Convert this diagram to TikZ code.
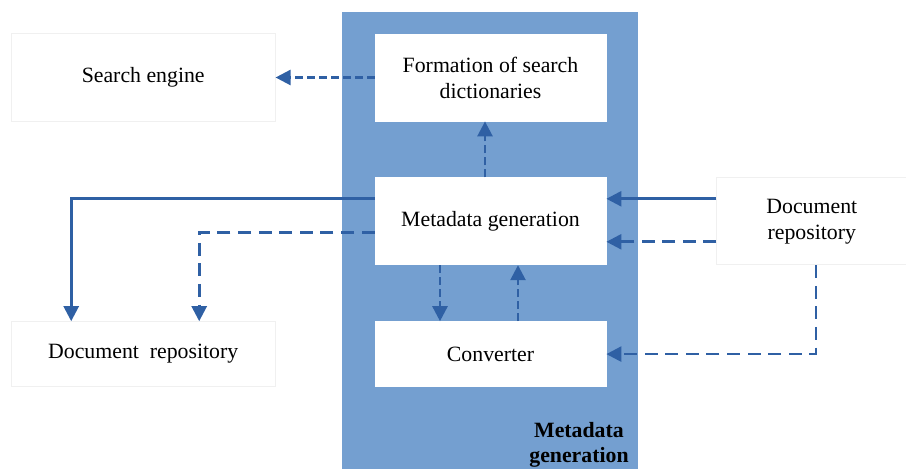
\documentclass[tikz,border=0pt]{standalone}
\usepackage{fontspec}
\setmainfont{Liberation Serif}
\usetikzlibrary{positioning,arrows.meta}
\definecolor{bandblue}{RGB}{116,159,208}
\definecolor{flowblue}{RGB}{47,96,164}
\begin{document}
\begin{tikzpicture}[x=0.5pt, y=-0.5pt, >={Triangle[length=7.5pt,width=7.5pt]}, font=\fontsize{10.9}{13}\selectfont]
            \tikzstyle{block} = [rectangle, fill=white, draw=gray!12, line width=0.4pt, align=center, text centered, inner sep=2pt]
            \tikzstyle{flow} = [->, draw=flowblue, line width=1.3pt]
            \tikzstyle{shortdash} = [flow, dash pattern=on 4pt off 2pt]
            \tikzstyle{longdash} = [flow, dash pattern=on 6.5pt off 3.8pt]

            \useasboundingbox (0,0) rectangle (906,469);

            % Band
            \fill[bandblue] (342,12) rectangle (638,480);
            \node[font=\fontsize{10.9}{12.5}\selectfont\bfseries, align=center] (bandlabel) at (579,445) {Metadata\\generation};

            % Nodes
            \node[block, draw=white, minimum width=115.5pt, minimum height=43.5pt] (form) at (490.5,77.5) {Formation of search\\dictionaries};
            \node[block, draw=white, minimum width=115.5pt, minimum height=43.5pt] (meta) [below=28pt of form] {Metadata generation};
            \node[block, draw=white, minimum width=115.5pt, minimum height=32.5pt] (conv) [below=28pt of meta] {Converter};
            \node[block, minimum width=132pt, minimum height=44pt] (search) [left=49.5pt of form] {Search engine};
            \node[block, minimum width=132pt, minimum height=32.5pt] (repoL) [left=49.5pt of conv] {Document\ \ repository};
            \node[block, minimum width=95pt, minimum height=43.5pt] (repoR) [right=55pt of meta] {Document\\repository};

            % Edges
            \draw[shortdash] (form.west) -- (search.east);
            \draw[shortdash] ([xshift=-2.75pt]meta.north) -- ([xshift=-2.75pt]form.south);
            \draw[flow] ([yshift=11.25pt]meta.west) -| ([xshift=-36pt]repoL.north);
            \draw[longdash] ([yshift=-5.75pt]meta.west) -| ([xshift=28pt]repoL.north);
            \draw[shortdash] ([xshift=-25.25pt]meta.south) -- ([xshift=-25.25pt]conv.north);
            \draw[shortdash] ([xshift=13.75pt]conv.north) -- ([xshift=13.75pt]meta.south);
            \draw[flow] ([yshift=11.25pt]repoR.west) -- ([yshift=11.25pt]meta.east);
            \draw[longdash] ([yshift=-10.25pt]repoR.west) -- ([yshift=-10.25pt]meta.east);
            \draw[longdash] ([xshift=2pt]repoR.south) |- (conv.east);

        \end{tikzpicture}
\end{document}
